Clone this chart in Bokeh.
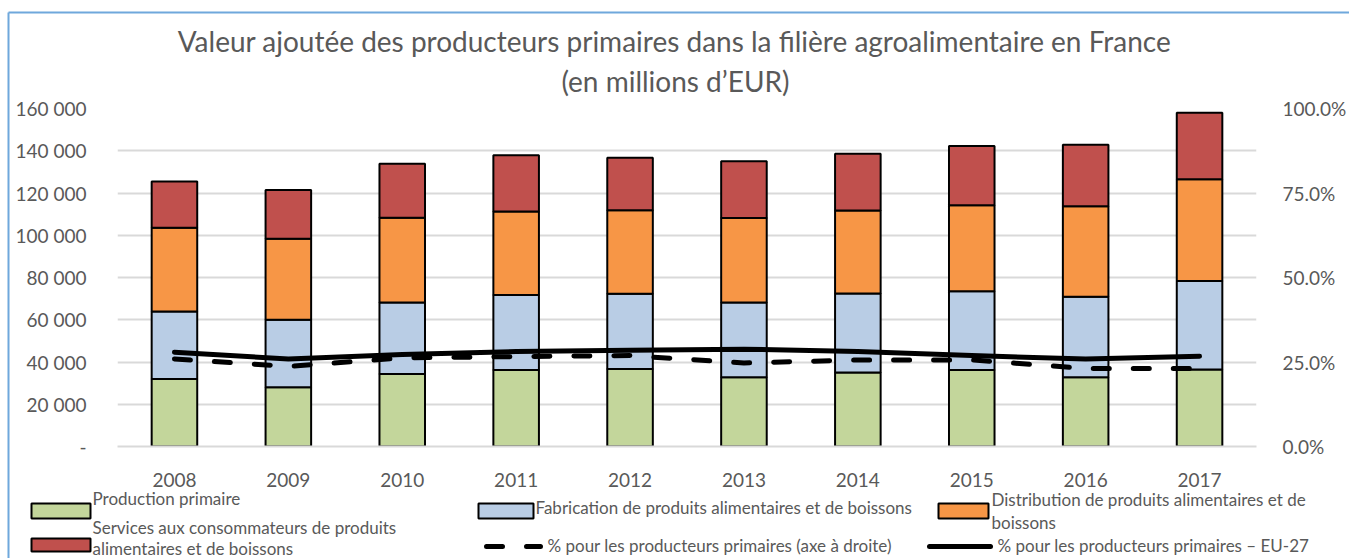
from bokeh.plotting import figure
from bokeh.models import (Range1d, LinearAxis, FixedTicker, FactorRange, ColumnDataSource,
                          NumeralTickFormatter)
from bokeh.embed import file_html
from bokeh.resources import INLINE
from bokeh.core.properties import value

# ---------------- data ----------------
years = ["2008", "2009", "2010", "2011", "2012", "2013", "2014", "2015", "2016", "2017"]
primary = [32000, 28000, 34300, 36200, 36700, 32800, 35000, 36200, 32800, 36400]
manufacturing = [31900, 32000, 33900, 35500, 35600, 35400, 37400, 37300, 38100, 41900]
distribution = [39700, 38300, 40100, 39500, 39500, 40000, 39300, 40700, 42800, 48200]
services = [21900, 23100, 25600, 26700, 24900, 26800, 26900, 28000, 29100, 31500]
share_fr = [0.259, 0.237, 0.262, 0.266, 0.269, 0.247, 0.256, 0.256, 0.231, 0.231]
share_eu = [0.279, 0.259, 0.272, 0.281, 0.285, 0.288, 0.281, 0.269, 0.259, 0.267]

left_ticks = [0, 20000, 40000, 60000, 80000, 100000, 120000, 140000, 160000]
left_labels = ["-", "20 000", "40 000", "60 000", "80 000", "100 000", "120 000", "140 000", "160 000"]
right_ticks = [0, 0.25, 0.5, 0.75, 1.0]

title_1 = "Valeur ajoutée des producteurs primaires dans la filière agroalimentaire en France"
title_2 = "(en millions d’EUR)"
name_primary = "Production primaire"
name_manuf = "Fabrication de produits alimentaires et de boissons"
name_distrib = ["Distribution de produits alimentaires et de", "boissons"]
name_services = ["Services aux consommateurs de produits", "alimentaires et de boissons"]
name_fr = "% pour les producteurs primaires (axe à droite)"
name_eu = "% pour les producteurs primaires – EU-27"

colors = ["#C3D69B", "#B9CDE5", "#F79646", "#C0504D"]
FONT = "Lato"
GRAY = "#595959"

W, H = 1349, 558
BL, BR, BT, BB = 117, 89, 108, 112

# ---------------- main chart ----------------
src = ColumnDataSource(dict(year=years, primary=primary, manufacturing=manufacturing,
                            distribution=distribution, services=services,
                            share_fr=share_fr, share_eu=share_eu))

p = figure(x_range=FactorRange(*years), y_range=Range1d(0, 160000), width=W, height=H,
           min_border_left=BL, min_border_right=BR, min_border_top=BT, min_border_bottom=BB,
           toolbar_location=None, output_backend="svg")
p.outline_line_color = None
p.extra_y_ranges = {"pct": Range1d(0, 1)}

p.vbar_stack(["primary", "manufacturing", "distribution", "services"], x="year", width=0.4,
             fill_color=colors, line_color="black", line_width=2, source=src)

p.line(x="year", y="share_fr", y_range_name="pct", source=src, line_color="black",
       line_width=5, line_dash="16 24", line_cap="round")
p.line(x="year", y="share_eu", y_range_name="pct", source=src, line_color="black",
       line_width=5, line_cap="round", line_join="round")

ly = p.yaxis[0]
lt = FixedTicker(ticks=left_ticks)
ly.ticker = lt
ly.major_label_overrides = dict(zip(left_ticks, left_labels))
p.ygrid.ticker = lt
p.ygrid.grid_line_color = "#D9D9D9"
p.ygrid.grid_line_width = 2
p.xgrid.grid_line_color = None

ry = LinearAxis(y_range_name="pct", ticker=FixedTicker(ticks=right_ticks),
                formatter=NumeralTickFormatter(format="0.0%"))
p.add_layout(ry, "right")

for ax in (ly, ry):
    ax.axis_line_color = None
    ax.major_tick_line_color = None
    ax.minor_tick_line_color = None
    ax.major_label_text_font = FONT
    ax.major_label_text_font_size = "19px"
    ax.major_label_text_color = GRAY
ly.major_label_standoff = 25
ry.major_label_standoff = 20

xa = p.xaxis[0]
xa.axis_line_color = "#D9D9D9"
xa.axis_line_width = 2
xa.major_tick_line_color = None
xa.minor_tick_line_color = None
xa.major_label_text_font = FONT
xa.major_label_text_font_size = "19px"
xa.major_label_text_color = GRAY
xa.major_label_standoff = 20

# ---------------- overlay: frame border, title and legend (page pixels) ----------------
ov = figure(width=W, height=H, x_range=Range1d(0, W), y_range=Range1d(H, 0),
            x_axis_type=None, y_axis_type=None, min_border=0,
            toolbar_location=None, output_backend="svg")
ov.outline_line_color = None
ov.background_fill_alpha = 0
ov.border_fill_alpha = 0
ov.styles = {"position": "absolute", "left": "0px", "top": "0px"}

ov.segment(x0=[8, 8], y0=[12, 12], x1=[W, 8], y1=[12, H], line_color="#6FA8DC", line_width=2)

ov.text(x=[674, 675], y=[40, 80], text=[title_1, title_2], text_align="center",
        text_baseline="middle", text_font=value(FONT), text_font_size="28px", text_color=GRAY)

ov.quad(left=[31, 478, 938, 31], right=[90, 533, 988, 90],
        top=[503, 503, 503, 538], bottom=[518, 518, 518, 551],
        fill_color=colors, line_color="black", line_width=2)
ov.line(x=[486, 540], y=[546, 546], line_color="black", line_width=5,
        line_dash="16 24", line_cap="round")
ov.line(x=[929, 990], y=[546, 546], line_color="black", line_width=5, line_cap="round")

leg_text = [name_primary, name_manuf, name_distrib[0], name_distrib[1],
            name_services[0], name_services[1], name_fr, name_eu]
leg_x = [92, 535, 991, 991, 92, 92, 547, 997]
leg_y = [498, 507, 499, 522, 527, 548, 545, 545]
ov.text(x=leg_x, y=leg_y, text=leg_text, text_align="left", text_baseline="middle",
        text_font=value(FONT), text_font_size="17px", text_color=GRAY)

open("out.html", "w").write(file_html([p, ov], INLINE))
